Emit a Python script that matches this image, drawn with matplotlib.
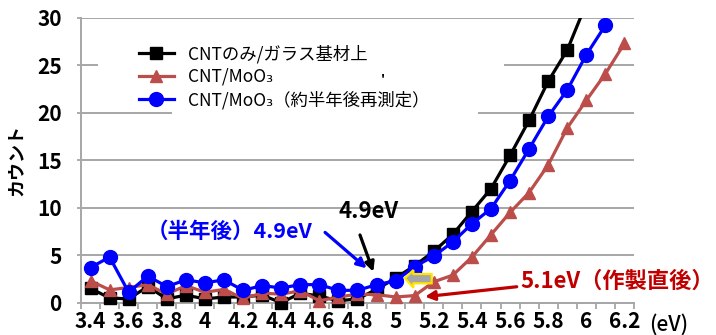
import matplotlib
matplotlib.use("Agg")
import matplotlib.pyplot as plt
from matplotlib.patches import Rectangle, Polygon
import numpy as np

plt.rcParams['font.family'] = ['Noto Sans CJK JP', 'DejaVu Sans']

# ---- data ----
energy = [3.4, 3.5, 3.6, 3.7, 3.8, 3.9, 4.0, 4.1, 4.2, 4.3, 4.4, 4.5, 4.6, 4.7, 4.8,
          4.9, 5.0, 5.1, 5.2, 5.3, 5.4, 5.5, 5.6, 5.7, 5.8, 5.9, 6.0, 6.1, 6.2]
cnt_glass = [1.5, 0.5, 0.4, 1.7, 0.4, 0.8, 0.4, 0.6, 0.6, 0.8, 0.0, 1.0, 0.7, 0.2, 0.4,
             1.4, 2.6, 3.9, 5.4, 7.2, 9.6, 12.0, 15.5, 19.2, 23.3, 26.6, 31.5]
cnt_moo3 = [2.3, 1.35, 1.6, 1.9, 0.9, 1.8, 1.1, 1.4, 0.45, 1.0, 0.9, 1.25, 0.2, 0.6, 0.9,
            0.85, 0.6, 0.75, 2.2, 2.9, 4.8, 7.15, 9.5, 11.6, 14.5, 18.4, 21.3, 24.1, 27.3]
cnt_moo3_later = [3.7, 4.8, 1.1, 2.8, 1.7, 2.4, 2.1, 2.4, 1.3, 1.8, 1.55, 1.9, 1.9, 1.3, 1.3,
                  1.9, 2.3, 3.8, 4.9, 6.4, 8.3, 9.9, 12.85, 16.2, 19.6, 22.4, 26.1, 29.2]
series_labels = ["CNTのみ/ガラス基材上", "CNT/MoO₃", "CNT/MoO₃（約半年後再測定）"]
xtick_vals = [3.4, 3.6, 3.8, 4.0, 4.2, 4.4, 4.6, 4.8, 5.0, 5.2, 5.4, 5.6, 5.8, 6.0, 6.2]
xtick_labels = ["3.4", "3.6", "3.8", "4", "4.2", "4.4", "4.6", "4.8", "5", "5.2", "5.4",
                "5.6", "5.8", "6", "6.2"]
ytick_vals = [0, 5, 10, 15, 20, 25, 30]

fig = plt.figure(figsize=(7.16, 3.35), dpi=100)
ax = fig.add_axes([81/716, 32.3/335, 553/716, 285/335])
ax.set_xlim(3.35, 6.25)
ax.set_ylim(0, 30)

grey = '#A6A6A6'
ax.set_axisbelow(True)
ax.yaxis.grid(True, color=grey, lw=1.4)
for s in ['top', 'right']:
    ax.spines[s].set_visible(False)
for s in ['left', 'bottom']:
    ax.spines[s].set_color(grey)
    ax.spines[s].set_linewidth(1.4)

# white boxes behind legend (hide grid lines)
ax.add_patch(Rectangle((0.0307, 0.683), 0.734, 0.281, transform=ax.transAxes,
                       facecolor='white', edgecolor='none', zorder=1))
ax.add_patch(Rectangle((0.1646, 0.641), 0.553, 0.045, transform=ax.transAxes,
                       facecolor='white', edgecolor='none', zorder=1))

red = '#BB4D4A'
l1, = ax.plot(energy[:len(cnt_glass)], cnt_glass, color='black', lw=2.3, marker='s',
              markersize=9, label=series_labels[0], zorder=3)
l2, = ax.plot(energy[:len(cnt_moo3)], cnt_moo3, color=red, lw=2.3, marker='^',
              markersize=9, label=series_labels[1], zorder=4)
l3, = ax.plot(energy[:len(cnt_moo3_later)], cnt_moo3_later, color='#0000FF', lw=2.3,
              marker='o', markersize=10, label=series_labels[2], zorder=5)
for ln in (l1, l2, l3):
    clip = Rectangle((-0.05, -0.1), 1.1, 1.1, transform=ax.transAxes)
    ln.set_clip_path(clip)

# ticks
ax.set_xticks(xtick_vals)
ax.set_xticklabels(xtick_labels)
ax.set_xticks(np.arange(3.35, 6.26, 0.1), minor=True)
ax.tick_params(axis='x', which='major', length=0, pad=6, labelsize=15)
ax.tick_params(axis='x', which='minor', length=4.5, width=1.3, color=grey, direction='out')
ax.set_yticks(ytick_vals)
ax.tick_params(axis='y', length=3, width=1.3, color=grey, pad=11, labelsize=15)
for lab in ax.get_xticklabels() + ax.get_yticklabels():
    lab.set_fontweight('bold')

ax.set_ylabel("カウント", fontsize=13, fontweight='bold')
ax.yaxis.set_label_coords(-0.1, 0.5)

leg = ax.legend(loc='upper left', bbox_to_anchor=(0.105, 0.905), frameon=False,
                fontsize=12.5, handlelength=2.0, handletextpad=0.8, labelspacing=0.27,
                borderaxespad=0, borderpad=0)

# annotations
ax.text(4.567, 7.47, "（半年後）4.9eV", color='#0000FF', fontsize=15.5, fontweight='bold',
        ha='right', va='center', zorder=6)
ax.annotate("", xy=(4.848, 3.62), xytext=(4.63, 7.4),
            arrowprops=dict(arrowstyle='-|>', color='#0000FF', lw=2.3, mutation_scale=14,
                            shrinkA=0, shrinkB=0), zorder=6)
ax.text(4.698, 9.55, "4.9eV", color='black', fontsize=16, fontweight='bold',
        ha='left', va='center', zorder=6)
ax.annotate("", xy=(4.883, 3.26), xytext=(4.813, 7.13),
            arrowprops=dict(arrowstyle='-|>', color='black', lw=2.3, mutation_scale=14,
                            shrinkA=0, shrinkB=0), zorder=6)
ax.text(5.652, 2.21, "5.1eV（作製直後）", color='#C00000', fontsize=16, fontweight='bold',
        ha='left', va='center', zorder=6)
ax.annotate("", xy=(5.154, 0.63), xytext=(5.635, 1.68),
            arrowprops=dict(arrowstyle='-|>', color='#C00000', lw=2.3, mutation_scale=14,
                            shrinkA=0, shrinkB=0), zorder=6)
# block arrow (grey with yellow edge)
arrow_pts = [(5.049, 2.57), (5.093, 3.44), (5.093, 3.02), (5.189, 3.02),
             (5.189, 2.04), (5.093, 2.04), (5.093, 1.58)]
ax.add_patch(Polygon(arrow_pts, closed=True, facecolor='#A6A6A6', edgecolor='#FFE600',
                     lw=1.6, zorder=7))

ax.text(4.935, 23.4, "'", fontsize=9, fontweight='bold', style='italic', ha='center',
        va='center', zorder=6)
fig.text(649/716, 10/335, "(eV)", fontsize=15, fontweight='medium', ha='left', va='center')

fig.savefig("out.png", dpi=100)
